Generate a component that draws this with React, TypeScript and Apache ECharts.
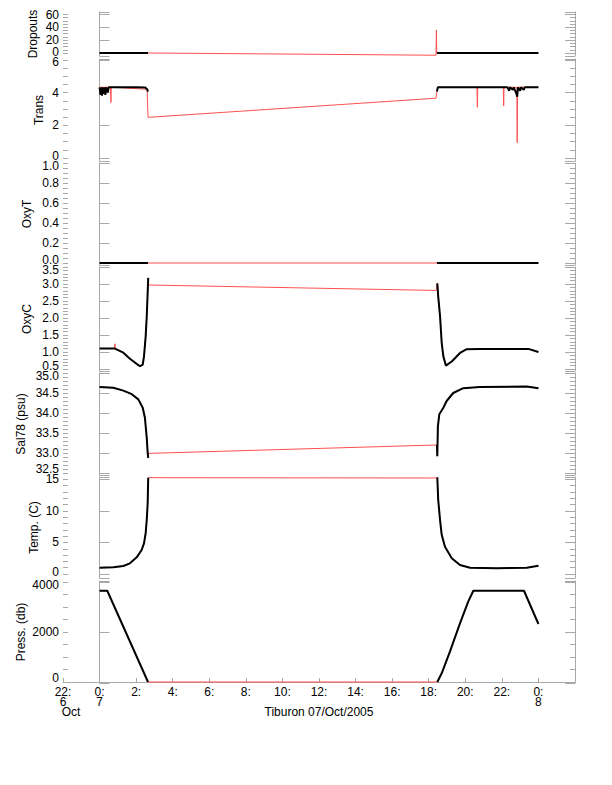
import React, { useEffect, useRef } from "react";
import * as echarts from "echarts";

// hours relative to 00:00, 7 Oct 2005
const xTickHours = [-2, 0, 2, 4, 6, 8, 10, 12, 14, 16, 18, 20, 22, 24];
const xTickLabels = ["22:\n6\n{oct|Oct}", "0:\n7", "2:", "4:", "6:", "8:", "10:", "12:", "14:", "16:", "18:", "20:", "22:", "0:\n8"];
const xTitle = "Tiburon 07/Oct/2005";

// Dropouts
const dropBlackPre = [[0, 0], [1.0, 0], [2.0, 0], [2.65, 0]];
const dropBlackPost = [[18.45, 0], [20, 0], [22, 0], [24, 0]];
const dropRed = [[0, 0], [2.65, 0], [18.4, -3.5], [18.42, 35.8], [18.44, 0], [24, 0]];

// Trans
const transBlackPre = [[0, 4.33], [0.05, 3.87], [0.08, 4.33], [0.13, 3.82], [0.17, 4.33], [0.22, 3.92], [0.26, 4.33], [0.32, 3.87], [0.36, 4.33], [0.45, 4.02], [0.5, 4.33], [1.0, 4.33], [2.0, 4.33], [2.5, 4.31], [2.6, 4.21], [2.65, 4.07]];
const transBlackPost = [[18.45, 4.07], [18.5, 4.33], [20.6, 4.33], [22.3, 4.33], [22.4, 4.12], [22.45, 4.33], [22.6, 4.17], [22.65, 4.33], [22.8, 3.92], [22.84, 3.75], [22.88, 4.33], [23.0, 4.12], [23.05, 4.33], [23.2, 4.17], [23.25, 4.33], [24, 4.33]];
const transRed = [[0, 4.33], [0.6, 4.33], [0.62, 3.39], [0.64, 4.33], [2.6, 4.21], [2.65, 2.49], [18.4, 3.66], [18.45, 4.07], [18.5, 4.33], [20.64, 4.33], [20.66, 3.11], [20.68, 4.33], [22.08, 4.33], [22.1, 3.19], [22.12, 4.33], [22.82, 4.33], [22.84, 0.94], [22.86, 4.33], [24, 4.33]];

// OxyT
const oxyTBlackPre = [[0, 0], [2.65, 0]];
const oxyTBlackPost = [[18.45, 0], [24, 0]];
const oxyTRed = [[0, 0], [24, 0]];

// OxyC
const oxyCBlackPre = [[0, 1.1], [0.5, 1.1], [0.84, 1.1], [1.3, 0.98], [1.66, 0.8], [2.03, 0.65], [2.21, 0.58], [2.36, 0.63], [2.43, 0.87], [2.52, 1.45], [2.58, 2.05], [2.63, 2.74], [2.66, 3.18]];
const oxyCBlackPost = [[18.47, 3.02], [18.52, 2.63], [18.62, 2.05], [18.71, 1.27], [18.8, 0.87], [18.94, 0.6], [19.26, 0.72], [19.71, 0.97], [20.08, 1.08], [20.8, 1.09], [23.45, 1.09], [24, 1.0]];
const oxyCRed = [[0, 1.1], [0.82, 1.1], [0.84, 1.24], [0.86, 1.1], [1.3, 0.98], [1.66, 0.8], [2.03, 0.65], [2.21, 0.58], [2.36, 0.63], [2.43, 0.87], [2.52, 1.45], [2.58, 2.05], [2.63, 2.74], [2.66, 3.18], [2.68, 2.97], [18.4, 2.81], [18.47, 3.02], [18.52, 2.63], [18.62, 2.05], [18.71, 1.27], [18.8, 0.87], [18.94, 0.6], [19.26, 0.72], [19.71, 0.97], [20.08, 1.08], [20.8, 1.09], [23.45, 1.09], [24, 1.0]];

// Sal78
const salBlackPre = [[0, 34.65], [0.75, 34.63], [1.3, 34.56], [1.76, 34.47], [2.12, 34.34], [2.36, 34.13], [2.48, 33.88], [2.58, 33.38], [2.63, 33.01], [2.66, 32.88]];
const salBlackPost = [[18.45, 33.2], [18.47, 32.92], [18.5, 33.66], [18.58, 33.97], [18.8, 34.13], [18.98, 34.3], [19.34, 34.5], [19.89, 34.62], [20.8, 34.65], [23.36, 34.66], [24, 34.62]];
const salRed = [[0, 34.65], [0.75, 34.63], [1.3, 34.56], [1.76, 34.47], [2.12, 34.34], [2.36, 34.13], [2.48, 33.88], [2.58, 33.38], [2.63, 33.01], [2.66, 32.88], [2.68, 32.99], [18.4, 33.2], [18.45, 33.2], [18.47, 32.92], [18.5, 33.66], [18.58, 33.97], [18.8, 34.13], [18.98, 34.3], [19.34, 34.5], [19.89, 34.62], [20.8, 34.65], [23.36, 34.66], [24, 34.62]];

// Temp
const tempBlackPre = [[0, 1.0], [0.75, 1.06], [1.3, 1.27], [1.66, 1.69], [2.03, 2.64], [2.3, 3.8], [2.43, 4.86], [2.52, 6.45], [2.58, 8.55], [2.63, 11.2], [2.66, 15.25]];
const tempBlackPost = [[18.47, 15.3], [18.52, 11.7], [18.62, 8.55], [18.71, 6.2], [18.89, 4.3], [19.26, 2.5], [19.71, 1.43], [20.26, 1.0], [21.7, 0.9], [23.36, 1.0], [24, 1.3]];
const tempRed = [[0, 1.0], [0.75, 1.06], [1.3, 1.27], [1.66, 1.69], [2.03, 2.64], [2.3, 3.8], [2.43, 4.86], [2.52, 6.45], [2.58, 8.55], [2.63, 11.2], [2.66, 15.25], [18.45, 15.2], [18.47, 15.3], [18.52, 11.7], [18.62, 8.55], [18.71, 6.2], [18.89, 4.3], [19.26, 2.5], [19.71, 1.43], [20.26, 1.0], [21.7, 0.9], [23.36, 1.0], [24, 1.3]];

// Press
const pressBlackPre = [[0, 3650], [0.42, 3650], [2.65, 0]];
const pressBlackPost = [[18.47, 0], [18.71, 348], [19.16, 1212], [19.71, 2348], [20.16, 3212], [20.44, 3650], [23.21, 3650], [24, 2320]];
const pressRed = [[0, 3650], [0.42, 3650], [2.65, 0], [18.47, 0], [18.71, 348]];

const panelNames = ["Dropouts", "Trans", "OxyT", "OxyC", "Sal78 (psu)", "Temp. (C)", "Press. (db)"];
const panelMajors = [
  [0, 20, 40, 60],
  [0, 2, 4, 6],
  [0, 0.2, 0.4, 0.6, 0.8, 1.0],
  [0.5, 1.0, 1.5, 2.0, 2.5, 3.0, 3.5],
  [32.5, 33.0, 33.5, 34.0, 34.5, 35.0],
  [0, 5, 10, 15],
  [0, 2000, 4000],
];
const panelBlack = [
  [dropBlackPre, dropBlackPost],
  [transBlackPre, transBlackPost],
  [oxyTBlackPre, oxyTBlackPost],
  [oxyCBlackPre, oxyCBlackPost],
  [salBlackPre, salBlackPost],
  [tempBlackPre, tempBlackPost],
  [pressBlackPre, pressBlackPost],
];
const panelRed = [dropRed, transRed, oxyTRed, oxyCRed, salRed, tempRed, pressRed];

// layout (pixels), axis ranges, label nudges (lo = bottom label up, hi = top label down)
const layout = [
  { top: 12, bottom: 56, min: -4.7, max: 63.9, minorStep: 5, dec: 0, nameGap: 24, lo: 1, hi: 0 },
  { top: 59, bottom: 161, min: -0.18, max: 6.06, minorStep: 0.5, dec: 0, nameGap: 18, lo: 2, hi: 2 },
  { top: 163, bottom: 265, min: -0.02, max: 1.0, minorStep: 0.05, dec: 1, nameGap: 30.5, lo: 3, hi: 3 },
  { top: 267, bottom: 371, min: 0.44, max: 3.5, minorStep: 0.1, dec: 1, nameGap: 30.5, lo: 3, hi: 3 },
  { top: 373, bottom: 475, min: 32.45, max: 35.0, minorStep: 0.1, dec: 1, nameGap: 36.5, lo: 4, hi: 3 },
  { top: 477, bottom: 578, min: -0.63, max: 15.36, minorStep: 1, dec: 0, nameGap: 23.5, lo: 2, hi: 0 },
  { top: 581, bottom: 683, min: -40, max: 4040, minorStep: 500, dec: 0, nameGap: 36.5, lo: 4, hi: 3 },
];

const FONT = "Liberation Sans, Arial, Helvetica, sans-serif";
const GRAY = "#a8a8a8";
const RED = "#ff5050";

function stepsBetween(min: number, max: number, step: number) {
  const out: number[] = [];
  for (let k = Math.ceil(min / step - 1e-9); k * step <= max + 1e-9; k++) out.push(+(k * step).toFixed(6));
  return out;
}

export default function App() {
  const ref = useRef<HTMLDivElement>(null);
  useEffect(() => {
    if (!ref.current) return;
    const chart = echarts.init(ref.current, null, { renderer: "svg" });
    const grids: any[] = [];
    const xAxes: any[] = [];
    const yAxes: any[] = [];
    const series: any[] = [];
    const txt = { fontSize: 12, fontFamily: FONT, color: "#000" };
    layout.forEach((p, i) => {
      grids.push({ left: 63, width: 512, top: p.top, height: p.bottom - p.top });
      const last = i === layout.length - 1;
      xAxes.push({
        type: "value",
        gridIndex: i,
        min: -2,
        max: 26,
        interval: 2,
        show: last,
        splitLine: { show: false },
        axisLine: { show: last, lineStyle: { color: GRAY, width: 1 } },
        axisTick: { show: last, inside: true, length: 4, lineStyle: { color: GRAY } },
        axisLabel: {
          show: last,
          showMaxLabel: false,
          margin: 4,
          lineHeight: 10,
          ...txt,
          formatter: (v: number) => {
            const k = xTickHours.indexOf(Math.round(v));
            return k >= 0 ? xTickLabels[k] : "";
          },
          rich: { oct: { ...txt, lineHeight: 10, padding: [0, 0, 0, 16] } },
        },
      });
      const majors = panelMajors[i];
      const minors = stepsBetween(p.min, p.max, p.minorStep);
      const ends = [p.min, ...majors, p.max];
      const lowest = Math.min(...majors);
      const highest = Math.max(...majors);
      const base = { type: "value", gridIndex: i, min: p.min, max: p.max, splitLine: { show: false } };
      yAxes.push({
        ...base,
        position: "left",
        name: panelNames[i],
        nameLocation: "middle",
        nameGap: p.nameGap,
        nameMoveOverlap: false,
        nameTextStyle: txt,
        axisLine: { show: true, lineStyle: { color: GRAY, width: 1 } },
        axisTick: { show: true, inside: true, length: 10, customValues: ends, lineStyle: { color: GRAY } },
        axisLabel: {
          show: true,
          customValues: majors,
          margin: 4,
          lineHeight: 9,
          ...txt,
          formatter: (v: number) => {
            const s = v.toFixed(p.dec);
            if (Math.abs(v - lowest) < 1e-9 && p.lo) return "{lo|" + s + "}";
            if (Math.abs(v - highest) < 1e-9 && p.hi) return "{hi|" + s + "}";
            return s;
          },
          rich: {
            lo: { ...txt, lineHeight: 9, padding: [0, 0, p.lo * 2, 0] },
            hi: { ...txt, lineHeight: 9, padding: [p.hi * 2, 0, 0, 0] },
          },
        },
      });
      yAxes.push({
        ...base,
        position: "left",
        axisLine: { show: false },
        axisTick: { show: true, inside: true, length: 5, customValues: minors, lineStyle: { color: GRAY } },
        axisLabel: { show: false },
      });
      yAxes.push({
        ...base,
        position: "right",
        axisLine: { show: true, lineStyle: { color: GRAY, width: 1 } },
        axisTick: { show: true, inside: true, length: 10, customValues: ends, lineStyle: { color: GRAY } },
        axisLabel: { show: false },
      });
      yAxes.push({
        ...base,
        position: "right",
        axisLine: { show: false },
        axisTick: { show: true, inside: true, length: 5, customValues: minors, lineStyle: { color: GRAY } },
        axisLabel: { show: false },
      });
      series.push({
        type: "line",
        xAxisIndex: i,
        yAxisIndex: i * 4,
        data: panelRed[i],
        showSymbol: false,
        symbol: "none",
        lineStyle: { color: RED, width: 1 },
        z: 2,
      });
      panelBlack[i].forEach((seg) => {
        series.push({
          type: "line",
          xAxisIndex: i,
          yAxisIndex: i * 4,
          data: seg,
          showSymbol: false,
          symbol: "none",
          lineStyle: { color: "#000", width: 2 },
          z: 3,
        });
      });
    });
    chart.setOption({
      animation: false,
      backgroundColor: "#fff",
      grid: grids,
      xAxis: xAxes,
      yAxis: yAxes,
      series,
      graphic: [
        {
          type: "text",
          x: 319,
          y: 712,
          style: { text: xTitle, fill: "#000", fontSize: 12, fontFamily: FONT, align: "center", verticalAlign: "middle" },
        },
      ],
    });
    return () => chart.dispose();
  }, []);
  return <div ref={ref} style={{ position: "fixed", left: 0, top: 0, width: 612, height: 785, background: "#fff" }} />;
}
